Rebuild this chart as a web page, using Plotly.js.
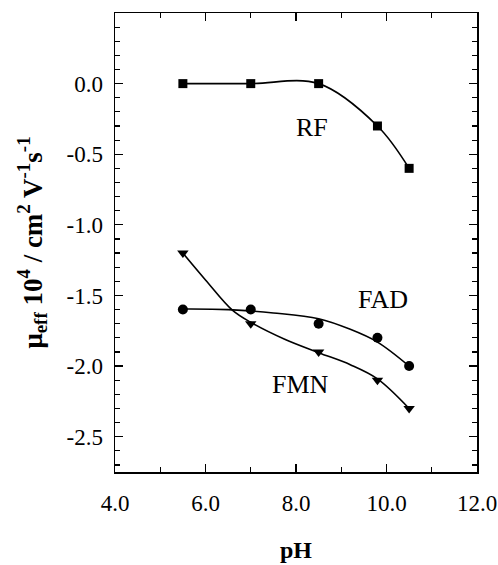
<!DOCTYPE html>
<html>
<head>
<meta charset="utf-8">
<script src="https://cdn.plot.ly/plotly-3.0.1.min.js"></script>
<style>html,body{margin:0;padding:0;background:#fff;}#chart{width:498px;height:565px;}</style>
</head>
<body>
<div id="chart"></div>
<script>
// Data
const pH = [5.5, 7.0, 8.5, 9.8, 10.5];
const rfMobility = [0.0, 0.0, 0.0, -0.3, -0.6];
const fadMobility = [-1.6, -1.6, -1.7, -1.8, -2.0];
const fmnMobility = [-1.2, -1.7, -1.9, -2.1, -2.3];
// Smooth fitted curves
const fadFitPH = [5.5, 6.5, 7.5, 8.5, 9.2, 9.8, 10.5];
const fadFit = [-1.596, -1.60, -1.624, -1.665, -1.74, -1.83, -2.0];
const fmnFitPH = [5.5, 6.0, 6.6, 7.0, 7.75, 8.5, 9.2, 9.8, 10.5];
const fmnFit = [-1.2, -1.39, -1.606, -1.69, -1.81, -1.905, -1.99, -2.09, -2.3];
const seriesLabels = ['RF', 'FAD', 'FMN'];
const xTickVals = [4, 6, 8, 10, 12];
const xTickText = ['4.0', '6.0', '8.0', '10.0', '12.0'];
const yTickVals = [0, -0.5, -1.0, -1.5, -2.0, -2.5];
const yTickText = ['0.0', '-0.5', '-1.0', '-1.5', '-2.0', '-2.5'];

const serif = 'Liberation Serif, Times New Roman, serif';

function curve(x, y) {
  return {
    x: x, y: y, type: 'scatter', mode: 'lines',
    line: {color: '#000', width: 1.6, shape: 'spline', smoothing: 1},
    showlegend: false, cliponaxis: false, hoverinfo: 'skip'
  };
}
function points(y, symbol, size) {
  return {
    x: pH, y: y, type: 'scatter', mode: 'markers',
    marker: {symbol: symbol, size: size, color: '#000'},
    showlegend: false, cliponaxis: false
  };
}

const data = [
  curve(pH, rfMobility),
  curve(fadFitPH, fadFit),
  curve(fmnFitPH, fmnFit),
  points(rfMobility, 'square', 9),
  points(fadMobility, 'circle', 10),
  points(fmnMobility, 'triangle-down', 10)
];

const axisCommon = {
  showgrid: false, zeroline: false, showline: true, linecolor: '#000', linewidth: 1.5,
  mirror: 'ticks', ticks: 'inside', ticklen: 8, tickwidth: 1.2, tickcolor: '#000',
  tickfont: {family: serif, size: 23, color: '#000'}
};

const layout = {
  width: 498, height: 565,
  margin: {l: 115, r: 21, t: 13, b: 93},
  paper_bgcolor: '#fff', plot_bgcolor: '#fff',
  xaxis: Object.assign({}, axisCommon, {
    range: [4, 12], tickmode: 'array', tickvals: xTickVals, ticktext: xTickText,
    ticklabelstandoff: 10,
    minor: {dtick: 1, ticks: 'inside', ticklen: 5, tickwidth: 1.2, tickcolor: '#000', showgrid: false},
    title: {text: '<b>pH</b>', font: {family: serif, size: 24, color: '#000'}, standoff: 26}
  }),
  yaxis: Object.assign({}, axisCommon, {
    range: [-2.75, 0.5], tickmode: 'array', tickvals: yTickVals, ticktext: yTickText,
    ticklabelstandoff: 6,
    minor: {dtick: 0.1, tick0: 0, ticks: 'inside', ticklen: 5, tickwidth: 1.2, tickcolor: '#000', showgrid: false},
    title: {text: '<b>μ<sub>eff</sub> 10<sup>4</sup> / cm<sup>2</sup> V<sup>-1</sup>s<sup>-1</sup></b>',
            font: {family: serif, size: 27, color: '#000'}, standoff: 16}
  }),
  annotations: [
    {x: 8.35, y: -0.31, text: seriesLabels[0]},
    {x: 9.92, y: -1.53, text: seriesLabels[1]},
    {x: 8.09, y: -2.13, text: seriesLabels[2]}
  ].map(a => Object.assign(a, {xref: 'x', yref: 'y', showarrow: false,
      font: {family: serif, size: 26, color: '#000'}}))
};

Plotly.newPlot('chart', data, layout, {displayModeBar: false, staticPlot: true});
</script>
</body>
</html>
